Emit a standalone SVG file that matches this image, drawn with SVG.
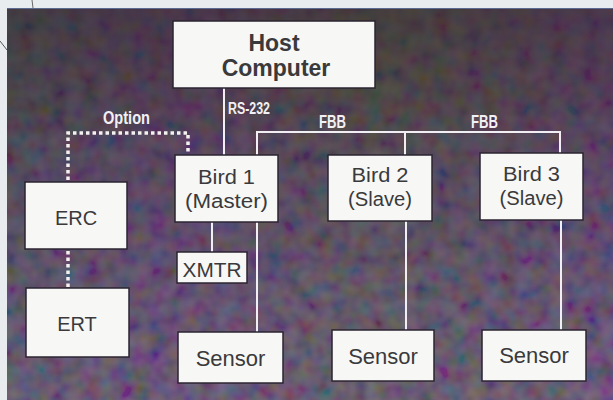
<svg xmlns="http://www.w3.org/2000/svg" width="613" height="400" viewBox="0 0 613 400">
  <defs>
    <linearGradient id="bg" x1="0" y1="0" x2="0" y2="1">
      <stop offset="0" stop-color="#33272a"/>
      <stop offset="0.25" stop-color="#36292d"/>
      <stop offset="0.4" stop-color="#3f2f42"/>
      <stop offset="0.7" stop-color="#4a3a52"/>
      <stop offset="1" stop-color="#514257"/>
    </linearGradient>
    <linearGradient id="hue" x1="0" y1="0" x2="1" y2="0">
      <stop offset="0" stop-color="#3c4a4a" stop-opacity="0.35"/>
      <stop offset="0.3" stop-color="#5a3070" stop-opacity="0.3"/>
      <stop offset="0.6" stop-color="#4b5538" stop-opacity="0.3"/>
      <stop offset="1" stop-color="#5a3470" stop-opacity="0.35"/>
    </linearGradient>
    <linearGradient id="fade" x1="0" y1="0" x2="0" y2="1">
      <stop offset="0" stop-color="#fff" stop-opacity="0.3"/>
      <stop offset="0.3" stop-color="#fff" stop-opacity="0.6"/>
      <stop offset="1" stop-color="#fff" stop-opacity="1"/>
    </linearGradient>
    <mask id="m">
      <rect x="0" y="0" width="613" height="400" fill="url(#fade)"/>
    </mask>
    <filter id="grain" x="0" y="0" width="1" height="1">
      <feTurbulence type="fractalNoise" baseFrequency="0.06" numOctaves="2" seed="5" result="n"/>
      <feColorMatrix in="n" type="matrix" values="1.1 0 0 0 -0.2  0 1.0 0 0 -0.2  0 0 1.2 0 -0.15  0 0 0 0 0.32" result="c"/>
      <feComposite in="c" in2="SourceGraphic" operator="in"/>
    </filter>
  </defs>
  <style>
    .box { fill: #f7f7f5; stroke: #2b2430; stroke-width: 1.5; }
    .t { font-family: "Liberation Sans", Arial, sans-serif; fill: #3a3a3c; text-anchor: middle; }
    .lbl { font-family: "Liberation Sans", Arial, sans-serif; fill: #f2f0f4; font-weight: bold; }
    .wire { stroke: #f1eff3; stroke-width: 2; fill: none; }
    .dot { stroke: #f4f2f0; stroke-width: 3.5; fill: none; stroke-dasharray: 3.5 3; }
  </style>

  <!-- paper -->
  <rect x="0" y="0" width="613" height="400" fill="#e9ecee"/>
  <line x1="32" y1="0" x2="33" y2="8" stroke="#666" stroke-width="1"/>
  <line x1="0" y1="41" x2="7" y2="50" stroke="#555" stroke-width="1"/>

  <!-- dark panel -->
  <rect x="7" y="8" width="606" height="392" fill="url(#bg)"/>
  <rect x="7" y="8" width="606" height="392" fill="url(#hue)"/>
  <rect x="7" y="8" width="606" height="392" fill="#000" filter="url(#grain)" mask="url(#m)"/>
  <line x1="7" y1="8.5" x2="613" y2="8.5" stroke="#5a6a90" stroke-width="1"/>

  <!-- connectors -->
  <g id="connectors">
    <line class="wire" x1="224" y1="88" x2="224" y2="155"/>
    <path class="wire" d="M257,155 V132 H560 V153"/>
    <line class="wire" x1="405" y1="132" x2="405" y2="155"/>
    <line class="wire" x1="257" y1="222" x2="257" y2="332"/>
    <line class="wire" x1="406" y1="221" x2="406" y2="330"/>
    <line class="wire" x1="561" y1="220" x2="561" y2="330"/>
    <line class="wire" x1="212" y1="222" x2="212" y2="252"/>
    <path class="dot" d="M68,180 V133 H188 V154"/>
    <line class="dot" x1="68" y1="251" x2="68" y2="287"/>
    <text class="lbl" x="228" y="114" font-size="16" textLength="42" lengthAdjust="spacingAndGlyphs">RS-232</text>
    <text class="lbl" x="103" y="124" font-size="18" textLength="47" lengthAdjust="spacingAndGlyphs">Option</text>
    <text class="lbl" x="319" y="128" font-size="18" textLength="27" lengthAdjust="spacingAndGlyphs">FBB</text>
    <text class="lbl" x="471" y="128" font-size="18" textLength="27" lengthAdjust="spacingAndGlyphs">FBB</text>
  </g>

  <g id="host">
    <rect class="box" x="173" y="21" width="202" height="67"/>
    <text class="t" x="274" y="51" font-size="23" font-weight="bold">Host</text>
    <text class="t" x="276" y="76" font-size="23" font-weight="bold">Computer</text>
  </g>

  <g id="bird1">
    <rect class="box" x="175" y="155" width="103" height="67"/>
    <text class="t" x="226.5" y="184" font-size="20" textLength="57" lengthAdjust="spacingAndGlyphs">Bird 1</text>
    <text class="t" x="226.5" y="208" font-size="20" textLength="83" lengthAdjust="spacingAndGlyphs">(Master)</text>
  </g>
  <g id="bird2">
    <rect class="box" x="328" y="155" width="104" height="66"/>
    <text class="t" x="380" y="182" font-size="20" textLength="57" lengthAdjust="spacingAndGlyphs">Bird 2</text>
    <text class="t" x="380" y="206" font-size="20" textLength="64" lengthAdjust="spacingAndGlyphs">(Slave)</text>
  </g>
  <g id="bird3">
    <rect class="box" x="480" y="153" width="103" height="67"/>
    <text class="t" x="531.5" y="181" font-size="20" textLength="57" lengthAdjust="spacingAndGlyphs">Bird 3</text>
    <text class="t" x="531.5" y="205" font-size="20" textLength="64" lengthAdjust="spacingAndGlyphs">(Slave)</text>
  </g>

  <g id="xmtr">
    <rect class="box" x="177" y="252" width="70" height="31"/>
    <text class="t" x="212" y="277" font-size="20" textLength="59" lengthAdjust="spacingAndGlyphs">XMTR</text>
  </g>

  <g id="erc">
    <rect class="box" x="25" y="182" width="102" height="67"/>
    <text class="t" x="76" y="225" font-size="20">ERC</text>
  </g>
  <g id="ert">
    <rect class="box" x="26" y="288" width="103" height="69"/>
    <text class="t" x="77" y="331" font-size="20">ERT</text>
  </g>

  <g id="sensor1">
    <rect class="box" x="178" y="332" width="105" height="51"/>
    <text class="t" x="230.5" y="366" font-size="22">Sensor</text>
  </g>
  <g id="sensor2">
    <rect class="box" x="332" y="330" width="102" height="51"/>
    <text class="t" x="383" y="364" font-size="22">Sensor</text>
  </g>
  <g id="sensor3">
    <rect class="box" x="482" y="330" width="104" height="51"/>
    <text class="t" x="534" y="363" font-size="22">Sensor</text>
  </g>
</svg>
